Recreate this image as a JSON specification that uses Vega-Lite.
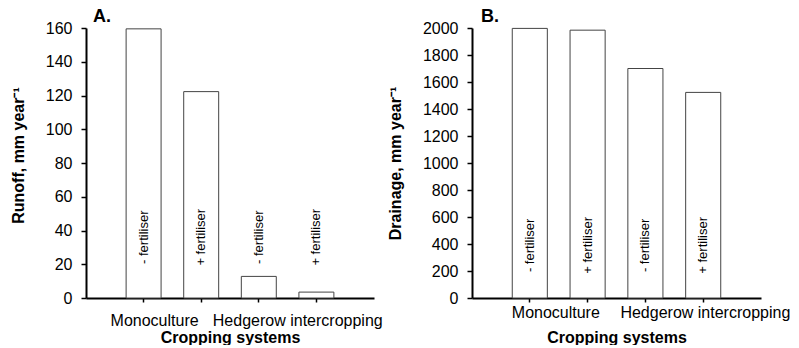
{
  "$schema": "https://vega.github.io/schema/vega-lite/v6.json",
  "background": "white",
  "padding": {"left": 10, "top": 8, "right": 0, "bottom": 0},
  "spacing": 4,
  "config": {
    "view": {"stroke": null},
    "font": "Liberation Sans",
    "axis": {"grid": false, "domainColor": "black", "domainWidth": 2, "tickColor": "black", "tickWidth": 1.5, "labelColor": "black", "titleColor": "black", "labelFont": "Liberation Sans", "titleFont": "Liberation Sans", "labelFontSize": 16, "titleFontSize": 16, "titleFontWeight": "bold", "labelOverlap": false},
    "title": {"font": "Liberation Sans", "fontSize": 18, "fontWeight": "bold", "color": "black"}
  },
  "data": {"values": [
    {"id": "M-", "fert": "- fertiliser", "runoff": 159.5, "drainage": 1997},
    {"id": "M+", "fert": "+ fertiliser", "runoff": 122.3, "drainage": 1984},
    {"id": "H-", "fert": "- fertiliser", "runoff": 12.8, "drainage": 1700},
    {"id": "H+", "fert": "+ fertiliser", "runoff": 3.5, "drainage": 1523}
  ]},
  "hconcat": [
    {
      "width": 288, "height": 270,
      "title": {"text": "A.", "anchor": "start", "frame": "group", "dx": 7, "offset": -6},
      "layer": [
        {
          "mark": {"type": "bar", "fill": "white", "stroke": "#444", "strokeWidth": 1, "width": {"band": 0.607}},
          "encoding": {
            "x": {"field": "id", "type": "nominal", "sort": null,
              "scale": {"paddingInner": 0, "paddingOuter": 0.5},
              "axis": {"title": "Cropping systems", "labelAngle": 0, "labelAlign": "left",
                "labelExpr": "datum.value == 'M-' ? 'Monoculture' : datum.value == 'H-' ? 'Hedgerow intercropping' : ''",
                "labelOffset": {"condition": {"test": "datum.value == 'M-'", "value": -33}, "value": -46},
                "labelOverlap": false, "labelBound": false, "labelFlush": false, "labelPadding": 10,
                "tickSize": 4, "titlePadding": 1, "titleFontSize": 16}},
            "y": {"field": "runoff", "type": "quantitative",
              "scale": {"domain": [0, 160], "nice": false},
              "axis": {"title": "Runoff, mm year⁻¹", "values": [0, 20, 40, 60, 80, 100, 120, 140, 160], "labelOverlap": false, "tickSize": 5, "labelPadding": 9, "titlePadding": 19, "titleY": 127}}
          }
        },
        {
          "mark": {"type": "text", "angle": 270, "align": "center", "baseline": "middle", "fontSize": 13, "color": "black"},
          "encoding": {
            "x": {"field": "id", "type": "nominal", "sort": null},
            "y": {"datum": 36, "type": "quantitative",
              "axis": {"title": "Runoff, mm year⁻¹", "values": [0, 20, 40, 60, 80, 100, 120, 140, 160], "labelOverlap": false, "tickSize": 5, "labelPadding": 9, "titlePadding": 19, "titleY": 127}},
            "text": {"field": "fert"}
          }
        }
      ]
    },
    {
      "width": 289, "height": 270,
      "title": {"text": "B.", "anchor": "start", "frame": "group", "dx": 9, "offset": -6},
      "layer": [
        {
          "mark": {"type": "bar", "fill": "white", "stroke": "#444", "strokeWidth": 1, "width": {"band": 0.607}},
          "encoding": {
            "x": {"field": "id", "type": "nominal", "sort": null,
              "scale": {"paddingInner": 0, "paddingOuter": 0.5},
              "axis": {"title": "Cropping systems", "labelAngle": 0, "labelAlign": "left",
                "labelExpr": "datum.value == 'M-' ? 'Monoculture' : datum.value == 'H-' ? 'Hedgerow intercropping' : ''",
                "labelOffset": {"condition": {"test": "datum.value == 'M-'", "value": -18}, "value": -25},
                "labelOverlap": false, "labelBound": false, "labelFlush": false, "labelPadding": 2,
                "tickSize": 4, "titlePadding": 9, "titleFontSize": 16}},
            "y": {"field": "drainage", "type": "quantitative",
              "scale": {"domain": [0, 2000], "nice": false},
              "axis": {"title": "Drainage, mm year⁻¹", "format": "d", "values": [0, 200, 400, 600, 800, 1000, 1200, 1400, 1600, 1800, 2000], "labelOverlap": false, "tickSize": 5, "labelPadding": 9, "titlePadding": 19}}
          }
        },
        {
          "mark": {"type": "text", "angle": 270, "align": "center", "baseline": "middle", "fontSize": 13, "color": "black"},
          "encoding": {
            "x": {"field": "id", "type": "nominal", "sort": null},
            "y": {"datum": 390, "type": "quantitative",
              "axis": {"title": "Drainage, mm year⁻¹", "format": "d", "values": [0, 200, 400, 600, 800, 1000, 1200, 1400, 1600, 1800, 2000], "labelOverlap": false, "tickSize": 5, "labelPadding": 9, "titlePadding": 19}},
            "text": {"field": "fert"}
          }
        }
      ]
    }
  ]
}
